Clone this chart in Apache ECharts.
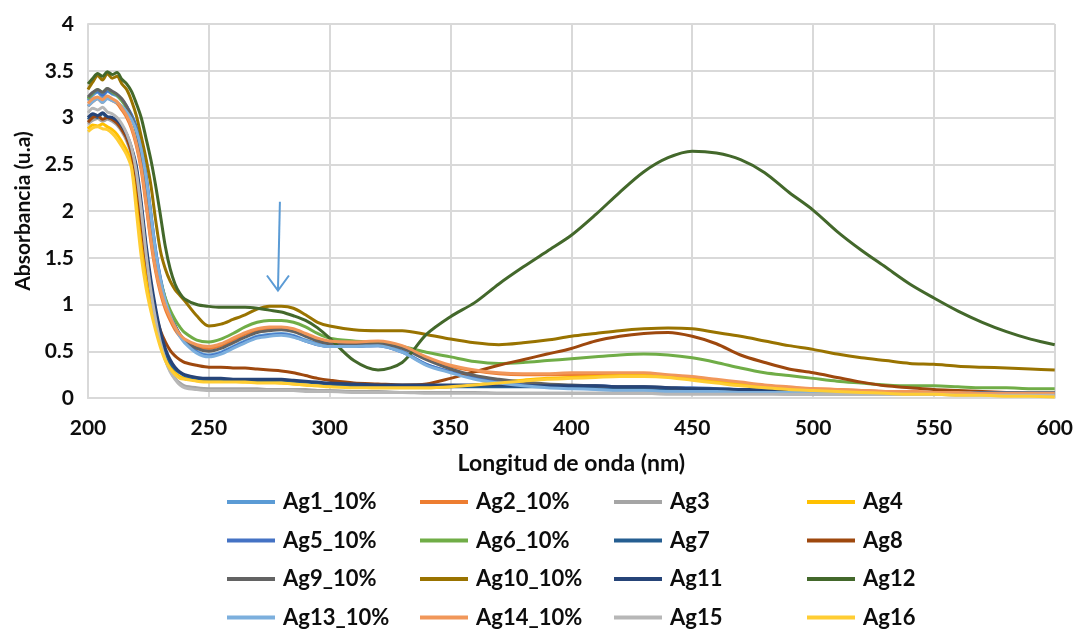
<!DOCTYPE html>
<html>
<head>
<meta charset="utf-8">
<script src="https://cdn.jsdelivr.net/npm/echarts@6/dist/echarts.min.js"></script>
<style>
html, body { margin: 0; padding: 0; background: #ffffff; }
#chart { width: 1076px; height: 630px; }
</style>
</head>
<body>
<div id="chart"></div>
<script>
// Wavelength samples (nm)
const wavelengths = [200,202,204,206,208,210,212,214,216,218,220,222,224,226,228,230,232,234,236,238,240,
  245,250,255,260,265,270,275,280,285,290,295,300,
  310,320,330,340,350,360,370,380,390,400,410,420,430,440,450,460,470,480,490,500,510,520,530,540,550,560,570,580,590,600];

// Absorbance (u.a) per sample
const ag1 = [3.18,3.24,3.27,3.22,3.28,3.25,3.23,3.18,3.11,3.02,2.88,2.68,2.38,1.98,1.58,1.28,1.06,0.90,0.78,0.68,0.61,
  0.50,0.46,0.49,0.55,0.61,0.66,0.68,0.69,0.67,0.62,0.58,0.56,
  0.56,0.57,0.50,0.36,0.28,0.22,0.18,0.15,0.13,0.11,0.10,0.09,0.08,0.08,0.07,0.07,0.07,0.06,0.06,0.06,0.06,0.06,0.05,0.05,0.05,0.05,0.05,0.05,0.05,0.05];
const ag2 = [3.12,3.17,3.20,3.16,3.21,3.18,3.15,3.08,3.00,2.88,2.70,2.44,2.07,1.67,1.35,1.12,0.95,0.83,0.73,0.66,0.61,
  0.55,0.53,0.56,0.62,0.68,0.72,0.74,0.74,0.72,0.67,0.62,0.60,
  0.59,0.60,0.55,0.43,0.34,0.29,0.26,0.25,0.25,0.25,0.25,0.25,0.25,0.24,0.22,0.19,0.16,0.13,0.11,0.10,0.09,0.08,0.07,0.07,0.06,0.06,0.05,0.05,0.05,0.05];
const ag3 = [2.93,2.97,2.99,2.96,2.98,2.96,2.92,2.85,2.75,2.60,2.35,1.95,1.50,1.12,0.82,0.58,0.41,0.29,0.21,0.16,0.13,
  0.11,0.10,0.10,0.10,0.10,0.10,0.09,0.09,0.09,0.09,0.08,0.08,
  0.07,0.07,0.06,0.06,0.06,0.06,0.05,0.05,0.05,0.05,0.05,0.05,0.05,0.05,0.05,0.05,0.05,0.05,0.04,0.04,0.04,0.04,0.04,0.04,0.04,0.04,0.04,0.04,0.04,0.04];
const ag4 = [2.88,2.92,2.91,2.93,2.90,2.87,2.82,2.74,2.65,2.52,2.12,1.65,1.28,1.00,0.77,0.58,0.43,0.33,0.27,0.23,0.21,
  0.19,0.18,0.18,0.18,0.17,0.17,0.17,0.16,0.15,0.14,0.13,0.13,
  0.12,0.11,0.11,0.11,0.12,0.14,0.17,0.19,0.21,0.22,0.23,0.24,0.24,0.23,0.21,0.18,0.15,0.12,0.10,0.09,0.08,0.07,0.06,0.05,0.05,0.04,0.04,0.03,0.03,0.03];
const ag5 = [3.20,3.26,3.28,3.24,3.29,3.26,3.24,3.19,3.12,3.03,2.90,2.69,2.38,1.97,1.57,1.27,1.05,0.89,0.77,0.67,0.60,
  0.49,0.45,0.48,0.54,0.60,0.65,0.67,0.68,0.66,0.61,0.57,0.55,
  0.55,0.56,0.49,0.36,0.28,0.22,0.18,0.16,0.14,0.13,0.13,0.12,0.12,0.11,0.11,0.10,0.09,0.09,0.08,0.08,0.07,0.07,0.07,0.06,0.06,0.06,0.06,0.06,0.06,0.06];
const ag6 = [3.20,3.26,3.30,3.27,3.31,3.27,3.24,3.18,3.10,3.00,2.85,2.62,2.26,1.85,1.50,1.25,1.07,0.94,0.84,0.76,0.70,
  0.62,0.60,0.63,0.69,0.76,0.81,0.83,0.83,0.81,0.76,0.69,0.64,
  0.61,0.59,0.55,0.49,0.44,0.39,0.37,0.38,0.40,0.42,0.44,0.46,0.47,0.46,0.43,0.38,0.32,0.27,0.24,0.21,0.18,0.16,0.14,0.13,0.13,0.12,0.11,0.11,0.10,0.10];
const ag7 = [2.98,3.02,3.00,3.04,3.00,2.99,2.96,2.90,2.80,2.66,2.45,2.05,1.60,1.22,0.92,0.68,0.50,0.38,0.31,0.27,0.24,
  0.21,0.20,0.20,0.19,0.19,0.19,0.19,0.19,0.18,0.17,0.16,0.15,
  0.13,0.12,0.12,0.12,0.12,0.12,0.12,0.12,0.12,0.12,0.12,0.11,0.11,0.10,0.10,0.09,0.09,0.08,0.08,0.07,0.07,0.07,0.06,0.06,0.06,0.06,0.05,0.05,0.05,0.05];
const ag8 = [2.95,3.00,3.02,2.98,3.00,2.98,2.94,2.87,2.78,2.62,2.35,1.90,1.48,1.15,0.90,0.72,0.60,0.51,0.45,0.41,0.38,
  0.35,0.33,0.33,0.32,0.32,0.31,0.30,0.29,0.27,0.24,0.21,0.19,
  0.16,0.15,0.14,0.15,0.21,0.28,0.35,0.41,0.47,0.53,0.61,0.66,0.69,0.70,0.66,0.58,0.46,0.38,0.31,0.27,0.22,0.17,0.13,0.11,0.09,0.08,0.07,0.06,0.05,0.05];
const ag9 = [3.22,3.27,3.30,3.27,3.31,3.28,3.25,3.20,3.12,3.00,2.85,2.60,2.25,1.82,1.45,1.20,1.02,0.88,0.77,0.68,0.62,
  0.53,0.50,0.53,0.59,0.65,0.70,0.72,0.73,0.71,0.66,0.61,0.58,
  0.57,0.58,0.53,0.41,0.31,0.24,0.20,0.17,0.15,0.14,0.13,0.12,0.12,0.11,0.10,0.09,0.08,0.08,0.07,0.07,0.07,0.06,0.06,0.06,0.06,0.06,0.06,0.05,0.05,0.05];
const ag10 = [3.30,3.38,3.45,3.40,3.47,3.42,3.44,3.36,3.30,3.18,3.02,2.80,2.56,2.28,1.90,1.57,1.38,1.25,1.16,1.10,1.04,
  0.88,0.77,0.79,0.84,0.89,0.95,0.98,0.98,0.96,0.89,0.81,0.77,
  0.73,0.72,0.72,0.68,0.63,0.59,0.57,0.59,0.62,0.66,0.69,0.72,0.74,0.75,0.74,0.70,0.66,0.61,0.56,0.52,0.47,0.43,0.40,0.37,0.36,0.34,0.33,0.32,0.31,0.30];
const ag11 = [3.00,3.04,3.02,3.05,3.01,3.00,2.97,2.91,2.82,2.68,2.48,2.10,1.65,1.27,0.96,0.71,0.53,0.41,0.33,0.28,0.25,
  0.22,0.21,0.21,0.20,0.20,0.20,0.20,0.20,0.19,0.18,0.17,0.16,
  0.15,0.14,0.14,0.14,0.14,0.14,0.14,0.13,0.13,0.13,0.13,0.12,0.12,0.11,0.10,0.10,0.09,0.09,0.08,0.08,0.07,0.07,0.07,0.06,0.06,0.06,0.06,0.06,0.05,0.05];
const ag12 = [3.36,3.42,3.47,3.44,3.49,3.46,3.48,3.41,3.36,3.28,3.15,3.00,2.78,2.55,2.27,1.95,1.62,1.38,1.22,1.12,1.06,
  1.00,0.98,0.97,0.97,0.97,0.96,0.94,0.92,0.88,0.83,0.75,0.64,
  0.40,0.30,0.38,0.68,0.87,1.02,1.22,1.40,1.57,1.74,1.96,2.20,2.42,2.57,2.64,2.62,2.55,2.41,2.20,2.01,1.78,1.58,1.40,1.22,1.07,0.93,0.81,0.71,0.63,0.57];
const ag13 = [3.12,3.17,3.20,3.16,3.20,3.18,3.16,3.12,3.06,2.98,2.86,2.66,2.36,1.96,1.56,1.26,1.04,0.88,0.76,0.66,0.59,
  0.48,0.44,0.47,0.53,0.59,0.64,0.66,0.67,0.65,0.61,0.57,0.55,
  0.55,0.56,0.49,0.35,0.27,0.20,0.16,0.13,0.11,0.10,0.09,0.08,0.08,0.07,0.07,0.07,0.06,0.06,0.06,0.06,0.05,0.05,0.05,0.05,0.05,0.05,0.05,0.05,0.05,0.05];
const ag14 = [3.15,3.20,3.22,3.19,3.23,3.20,3.17,3.10,3.02,2.90,2.72,2.47,2.10,1.70,1.38,1.15,0.98,0.86,0.76,0.68,0.63,
  0.57,0.55,0.58,0.64,0.70,0.74,0.76,0.76,0.74,0.69,0.64,0.61,
  0.60,0.61,0.56,0.44,0.35,0.30,0.27,0.26,0.26,0.27,0.27,0.27,0.27,0.25,0.23,0.20,0.17,0.14,0.12,0.10,0.09,0.08,0.07,0.07,0.06,0.06,0.05,0.05,0.05,0.05];
const ag15 = [3.05,3.10,3.08,3.11,3.06,3.04,3.00,2.93,2.83,2.68,2.42,2.02,1.55,1.15,0.84,0.59,0.41,0.28,0.20,0.14,0.11,
  0.09,0.08,0.08,0.08,0.08,0.08,0.08,0.08,0.08,0.07,0.07,0.07,
  0.06,0.06,0.06,0.05,0.05,0.05,0.05,0.05,0.05,0.05,0.05,0.05,0.05,0.04,0.04,0.04,0.04,0.04,0.04,0.04,0.04,0.04,0.04,0.04,0.04,0.03,0.03,0.03,0.03,0.03];
const ag16 = [2.85,2.89,2.90,2.88,2.87,2.83,2.77,2.69,2.60,2.46,2.00,1.52,1.18,0.93,0.72,0.54,0.40,0.31,0.25,0.21,0.20,
  0.18,0.17,0.17,0.17,0.17,0.16,0.16,0.16,0.15,0.14,0.13,0.12,
  0.11,0.11,0.11,0.11,0.12,0.14,0.16,0.18,0.20,0.21,0.22,0.23,0.23,0.22,0.19,0.16,0.13,0.11,0.09,0.08,0.07,0.06,0.05,0.04,0.04,0.03,0.03,0.02,0.02,0.01];

const seriesNames = ['Ag1_10%','Ag2_10%','Ag3','Ag4','Ag5_10%','Ag6_10%','Ag7','Ag8',
  'Ag9_10%','Ag10_10%','Ag11','Ag12','Ag13_10%','Ag14_10%','Ag15','Ag16'];
const seriesValues = [ag1,ag2,ag3,ag4,ag5,ag6,ag7,ag8,ag9,ag10,ag11,ag12,ag13,ag14,ag15,ag16];
const seriesColors = ['#5B9BD5','#ED7D31','#A5A5A5','#FFC000','#4472C4','#70AD47','#255E91','#9E480E',
  '#636363','#997300','#264478','#43682B','#7CAFDD','#F1975A','#B7B7B7','#FFCD33'];

const xTicks = { min: 200, max: 600, step: 50 };
const yTicks = { min: 0, max: 4, step: 0.5 };

// Annotation arrow pointing at the ~280 nm band (data coordinates)
const arrowTail = [279.4, 2.1];
const arrowTip = [278.6, 1.15];

const FONT = 'Lato';
const gridColor = '#D9D9D9';
const textColor = '#0d0d0d';

const chart = echarts.init(document.getElementById('chart'), null, { renderer: 'canvas' });

const series = seriesNames.map((name, i) => ({
  name: name,
  type: 'line',
  data: wavelengths.map((x, k) => [x, seriesValues[i][k]]),
  showSymbol: false,
  symbol: 'none',
  smooth: 0.3,
  lineStyle: { width: 3, color: seriesColors[i] },
  itemStyle: { color: seriesColors[i] },
  emphasis: { disabled: true },
  z: 2
}));

// Legend laid out as 4 columns x 4 rows
const legendColumns = [0, 1, 2, 3].map(c => [0, 1, 2, 3].map(r => seriesNames[r * 4 + c]));
const legendLeft = [227, 420, 614, 807];
const legends = legendColumns.map((names, c) => ({
  orient: 'vertical',
  left: legendLeft[c],
  top: 490,
  padding: 0,
  itemGap: 14.5,
  itemWidth: 48,
  itemHeight: 4,
  icon: 'rect',
  selectedMode: false,
  data: names,
  textStyle: {
    fontFamily: FONT, fontWeight: 'bold', fontSize: 22, color: textColor,
    lineHeight: 24, padding: [0, 0, 0, 3]
  }
}));

chart.setOption({
  animation: false,
  backgroundColor: '#ffffff',
  grid: { left: 88, right: 21, top: 24, bottom: 232, containLabel: false },
  legend: legends,
  xAxis: {
    type: 'value',
    min: xTicks.min, max: xTicks.max, interval: xTicks.step,
    name: 'Longitud de onda (nm)',
    nameLocation: 'middle',
    nameGap: 54,
    nameTextStyle: { fontFamily: FONT, fontWeight: 'bold', fontSize: 23, color: textColor },
    axisLine: { show: true, lineStyle: { color: gridColor, width: 2 } },
    axisTick: { show: false },
    axisLabel: { margin: 20, fontFamily: FONT, fontWeight: 'bold', fontSize: 21, color: textColor },
    splitLine: { show: true, lineStyle: { color: gridColor, width: 2 } }
  },
  yAxis: {
    type: 'value',
    min: yTicks.min, max: yTicks.max, interval: yTicks.step,
    name: 'Absorbancia (u.a)',
    nameLocation: 'middle',
    nameGap: 49,
    nameRotate: 90,
    nameTextStyle: { fontFamily: FONT, fontWeight: 'bold', fontSize: 21, color: textColor },
    axisLine: { show: true, lineStyle: { color: gridColor, width: 2 } },
    axisTick: { show: false },
    axisLabel: { margin: 14, fontFamily: FONT, fontWeight: 'bold', fontSize: 21, color: textColor },
    splitLine: { show: true, lineStyle: { color: gridColor, width: 2 } }
  },
  series: series
});

// Arrow drawn from data coordinates through the grid's own scales
const p0 = chart.convertToPixel({ gridIndex: 0 }, arrowTail);
const p1 = chart.convertToPixel({ gridIndex: 0 }, arrowTip);
chart.setOption({
  graphic: [
    {
      type: 'line', z: 10,
      shape: { x1: p0[0], y1: p0[1], x2: p1[0], y2: p1[1] },
      style: { stroke: '#5B9BD5', lineWidth: 2 }
    },
    {
      type: 'polyline', z: 10,
      shape: { points: [[p1[0] - 11, p1[1] - 15], [p1[0], p1[1]], [p1[0] + 11, p1[1] - 15]] },
      style: { stroke: '#5B9BD5', lineWidth: 2, fill: null }
    }
  ]
});
</script>
</body>
</html>
